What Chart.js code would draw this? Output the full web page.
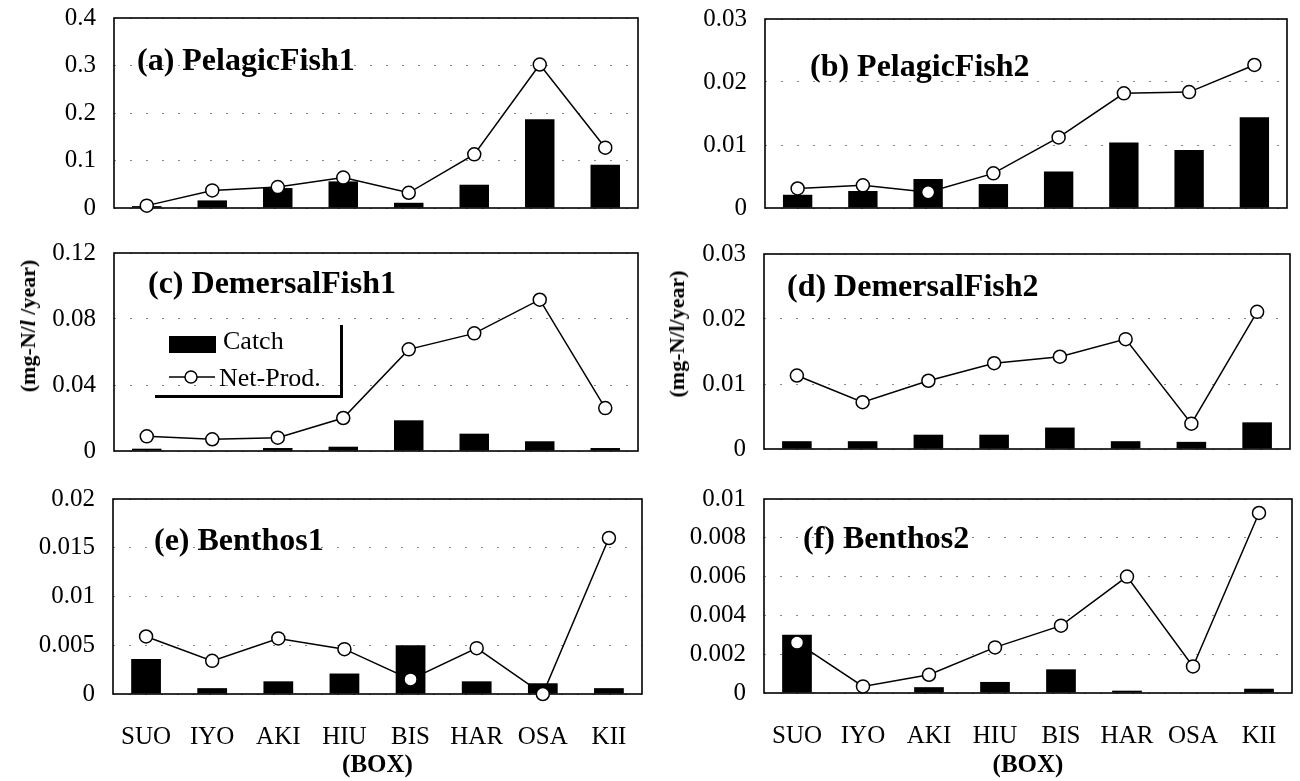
<!DOCTYPE html>
<html>
<head>
<meta charset="utf-8">
<script src="https://cdn.jsdelivr.net/npm/chart.js@4.4.0/dist/chart.umd.min.js"></script>
<style>
  body { margin: 0; background: #fff; }
  #page { position: relative; width: 1300px; height: 781px; overflow: hidden; font-family: "Liberation Serif", "Times New Roman", serif; color: #000; }
  #page canvas { position: absolute; }
  .ytitle { position: absolute; font-weight: bold; font-size: 22px; white-space: nowrap; transform: translate(-50%, -50%) rotate(-90deg); }
  #legend { position: absolute; left: 155px; top: 325px; width: 188px; height: 73px; box-sizing: border-box; border-right: 3px solid #000; border-bottom: 3px solid #000; font-size: 26px; }
  #legend .sw { position: absolute; left: 14px; top: 11px; width: 47px; height: 17px; background: #000; }
  #legend .t1 { position: absolute; left: 68px; top: 1px; line-height: 30px; }
  #legend svg { position: absolute; left: 14px; top: 44px; }
  #legend .t2 { position: absolute; left: 64px; top: 38px; line-height: 30px; }
</style>
</head>
<body>
<div id="page">
  <canvas id="ca"></canvas>
  <canvas id="cb"></canvas>
  <canvas id="cc"></canvas>
  <canvas id="cd"></canvas>
  <canvas id="ce"></canvas>
  <canvas id="cf"></canvas>
  <div class="ytitle" style="left:28px; top:326px;">(mg-N/<i>l</i> /year)</div>
  <div class="ytitle" style="left:677px; top:334px;">(mg-N/l/year)</div>
  <div id="legend">
    <div class="sw"></div><div class="t1">Catch</div>
    <svg width="46" height="16"><line x1="0" y1="8" x2="46" y2="8" stroke="#000" stroke-width="1.5"/><circle cx="22" cy="8" r="6" fill="#fff" stroke="#000" stroke-width="1.5"/></svg>
    <div class="t2">Net-Prod.</div>
  </div>
</div>
<script>
const categories = ['SUO', 'IYO', 'AKI', 'HIU', 'BIS', 'HAR', 'OSA', 'KII'];

const pelagic1Catch = [0.004, 0.016, 0.042, 0.056, 0.011, 0.049, 0.187, 0.091];
const pelagic1Prod  = [0.005, 0.037, 0.044, 0.064, 0.032, 0.113, 0.302, 0.127];
const pelagic2Catch = [0.0021, 0.0027, 0.0046, 0.0038, 0.0058, 0.0104, 0.0092, 0.0144];
const pelagic2Prod  = [0.0031, 0.0036, 0.0025, 0.0055, 0.0112, 0.0182, 0.0184, 0.0227];
const demersal1Catch = [0.0014, 0.0003, 0.0018, 0.0026, 0.0186, 0.0105, 0.0059, 0.0018];
const demersal1Prod  = [0.0089, 0.0071, 0.0081, 0.0200, 0.0616, 0.0713, 0.0917, 0.0260];
const demersal2Catch = [0.0012, 0.0012, 0.0022, 0.0022, 0.0033, 0.0012, 0.0011, 0.0041];
const demersal2Prod  = [0.0113, 0.0072, 0.0105, 0.0132, 0.0142, 0.0169, 0.0039, 0.0211];
const benthos1Catch = [0.0036, 0.0006, 0.0013, 0.0021, 0.0050, 0.0013, 0.0011, 0.0006];
const benthos1Prod  = [0.0059, 0.0034, 0.0057, 0.0046, 0.0015, 0.0047, 0.0000, 0.0160];
const benthos2Catch = [0.0030, 0.0000, 0.0003, 0.00057, 0.00122, 0.00012, 0.0000, 0.00022];
const benthos2Prod  = [0.0026, 0.00034, 0.00094, 0.00235, 0.00347, 0.0060, 0.00137, 0.00928];

// y axis ranges per panel
const yMax  = { a: 0.4, b: 0.03, c: 0.12, d: 0.03, e: 0.02, f: 0.01 };
const yStep = { a: 0.1, b: 0.01, c: 0.04, d: 0.01, e: 0.005, f: 0.002 };

Chart.defaults.font.family = '"Liberation Serif", "Times New Roman", serif';
Chart.defaults.color = '#000';

// box around the plot area
const frame = {
  id: 'frame',
  beforeDatasetsDraw(chart) {
    const a = chart.chartArea, ctx = chart.ctx;
    ctx.save();
    ctx.strokeStyle = '#000';
    ctx.lineWidth = 1.6;
    ctx.strokeRect(a.left, a.top, a.right - a.left, a.bottom - a.top);
    ctx.restore();
  }
};

// panel caption inside the plot, e.g. "(a) PelagicFish1"
const caption = {
  id: 'caption',
  afterDraw(chart, args, opts) {
    const ctx = chart.ctx;
    ctx.save();
    ctx.font = 'bold 32px "Liberation Serif", serif';
    ctx.fillStyle = '#000';
    ctx.textBaseline = 'middle';
    ctx.fillText(opts.text, opts.x, opts.y);
    ctx.restore();
  }
};

const fmt = v => v === 0 ? '0' : String(parseFloat(Number(v).toFixed(4)));

// plot frame on the page [left, right, top, bottom], caption [x, y]
const panels = [
  { key: 'a', col: 0, text: '(a) PelagicFish1', catchData: pelagic1Catch, prodData: pelagic1Prod, plot: [114, 638, 18, 208], cap: [137, 62], last: false },
  { key: 'b', col: 1, text: '(b) PelagicFish2', catchData: pelagic2Catch, prodData: pelagic2Prod, plot: [765, 1287, 19, 208], cap: [810, 68], last: false },
  { key: 'c', col: 0, text: '(c) DemersalFish1', catchData: demersal1Catch, prodData: demersal1Prod, plot: [114, 638, 253, 451], cap: [148, 285], last: false },
  { key: 'd', col: 1, text: '(d) DemersalFish2', catchData: demersal2Catch, prodData: demersal2Prod, plot: [764, 1290, 254, 449], cap: [787, 288], last: false },
  { key: 'e', col: 0, text: '(e) Benthos1', catchData: benthos1Catch, prodData: benthos1Prod, plot: [113, 647, 499, 694], cap: [154, 542], last: true },
  { key: 'f', col: 1, text: '(f) Benthos2', catchData: benthos2Catch, prodData: benthos2Prod, plot: [764, 1297, 499, 693], cap: [803, 540], last: true }
];

const PAD = 48; // room above / below the plot inside each canvas

panels.forEach(p => {
  const [fl, fr, ft, fb] = p.plot;
  const cx = p.col * 650, cw = 650;
  const cy = ft - PAD;
  const ch = (p.last ? 781 : fb + PAD) - cy;
  const bottomSpace = p.last ? 781 - fb : PAD;

  const canvas = document.getElementById('c' + p.key);
  canvas.width = cw;
  canvas.height = ch;
  canvas.style.left = cx + 'px';
  canvas.style.top = cy + 'px';
  canvas.style.width = cw + 'px';
  canvas.style.height = ch + 'px';

  new Chart(canvas, {
    data: {
      labels: categories,
      datasets: [
        {
          type: 'line',
          label: 'Net-Prod.',
          data: p.prodData,
          borderColor: '#000',
          borderWidth: 1.5,
          tension: 0,
          pointRadius: 6.5,
          pointBackgroundColor: '#fff',
          pointBorderColor: '#000',
          pointBorderWidth: 1.5,
          clip: false,
          order: 0
        },
        {
          type: 'bar',
          label: 'Catch',
          data: p.catchData,
          backgroundColor: '#000',
          borderWidth: 0,
          barPercentage: 0.45,
          categoryPercentage: 1,
          order: 1
        }
      ]
    },
    options: {
      responsive: false,
      animation: false,
      devicePixelRatio: 1,
      layout: {
        padding: { left: 0, right: cx + cw - fr, top: PAD, bottom: p.last ? 0 : PAD }
      },
      plugins: {
        legend: { display: false },
        tooltip: { enabled: false },
        caption: { text: p.text, x: p.cap[0] - cx, y: p.cap[1] - cy }
      },
      scales: {
        x: {
          grid: { display: false },
          border: { display: false },
          ticks: { display: p.last, font: { size: 25 }, padding: 20, maxRotation: 0, autoSkip: false },
          title: { display: p.last, text: '(BOX)', font: { size: 25, weight: 'bold' }, padding: { top: 2, bottom: 0 } },
          afterFit: s => { s.height = p.last ? bottomSpace : 0; }
        },
        y: {
          min: 0,
          max: yMax[p.key],
          grid: { color: '#8a8a8a', lineWidth: 1, drawTicks: false },
          border: { display: false, dash: [2, 14] },
          ticks: { stepSize: yStep[p.key], font: { size: 25 }, padding: 18, callback: v => fmt(v) },
          afterFit: s => { s.width = fl - cx; }
        }
      }
    },
    plugins: [frame, caption]
  });
});
</script>
</body>
</html>
